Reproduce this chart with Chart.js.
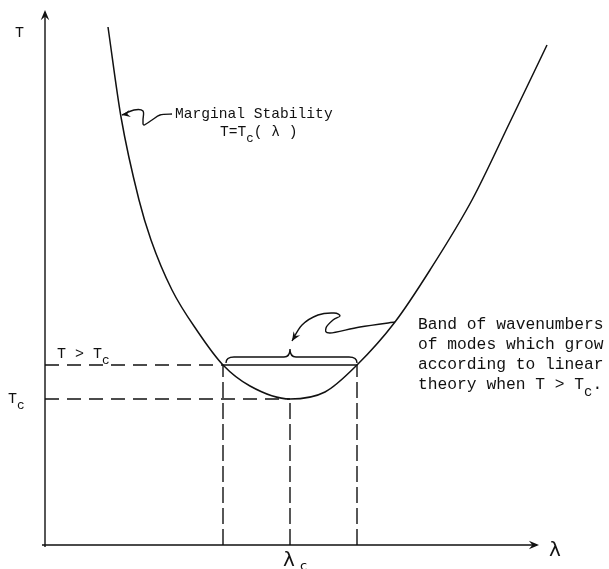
<!DOCTYPE html>
<html>
<head>
<meta charset="utf-8">
<script src="https://cdn.jsdelivr.net/npm/chart.js@4/dist/chart.umd.min.js"></script>
<style>
  html, body { margin: 0; background: #fff; }
  canvas { display: block; }
</style>
</head>
<body>
<canvas id="chart" width="609" height="569"></canvas>
<script>
// marginal stability curve T = Tc(lambda)
const curveLambda = [1.26, 1.52, 1.88, 2.12, 2.54, 3.06, 3.56, 4.10, 4.90, 5.60, 6.24, 7.00, 7.70, 8.54, 9.30, 10.04];
const curveT      = [10.36, 8.56, 6.90, 6.10, 5.10, 4.26, 3.60, 3.18, 2.92, 3.06, 3.60, 4.46, 5.50, 6.90, 8.46, 10.00];

// critical point and the T > Tc level
const lambdaC = 4.9;
const tC = 2.92;
const tAbove = 3.6;
const bandLeft = 3.56;
const bandRight = 6.24;

// axis ends (arrow tips)
const axisLambdaEnd = 9.84;
const axisTEnd = 10.66;

// pointer squiggles (data units)
const margPointer = [[1.54, 8.60], [1.78, 8.70], [1.96, 8.68], [1.96, 8.50], [1.98, 8.40], [2.14, 8.50], [2.30, 8.60], [2.54, 8.62]];
const bandPointer = [[7.00, 4.46], [6.30, 4.36], [5.70, 4.24], [5.62, 4.34], [5.76, 4.50], [5.90, 4.58], [5.78, 4.64], [5.46, 4.60], [5.14, 4.40], [4.94, 4.08]];

const ink = '#111';
const dashH = [14, 8];
const dashV = [16, 5];

function seg(x1, y1, x2, y2) {
    return [{ x: x1, y: y1 }, { x: x2, y: y2 }];
}

function lineSet(data, dash, width) {
    return {
        data: data,
        showLine: true,
        borderColor: ink,
        borderWidth: width || 1.4,
        borderDash: dash || [],
        pointRadius: 0,
        clip: false
    };
}

const curve = curveLambda.map((l, i) => ({ x: l, y: curveT[i] }));

// smooth path through points (catmull-rom)
function smoothPath(ctx, pts) {
    ctx.beginPath();
    ctx.moveTo(pts[0][0], pts[0][1]);
    for (let i = 0; i < pts.length - 1; i++) {
        const p0 = pts[i - 1] || pts[i];
        const p1 = pts[i];
        const p2 = pts[i + 1];
        const p3 = pts[i + 2] || p2;
        ctx.bezierCurveTo(
            p1[0] + (p2[0] - p0[0]) / 6, p1[1] + (p2[1] - p0[1]) / 6,
            p2[0] - (p3[0] - p1[0]) / 6, p2[1] - (p3[1] - p1[1]) / 6,
            p2[0], p2[1]);
    }
    ctx.stroke();
}

function arrowHead(ctx, from, tip, size) {
    const a = Math.atan2(tip[1] - from[1], tip[0] - from[0]);
    ctx.beginPath();
    ctx.moveTo(tip[0], tip[1]);
    ctx.lineTo(tip[0] - size * Math.cos(a - 0.4), tip[1] - size * Math.sin(a - 0.4));
    ctx.lineTo(tip[0] - size * 0.6 * Math.cos(a), tip[1] - size * 0.6 * Math.sin(a));
    ctx.lineTo(tip[0] - size * Math.cos(a + 0.4), tip[1] - size * Math.sin(a + 0.4));
    ctx.closePath();
    ctx.fill();
}

// text with subscript pieces: parts = [[text, isSub], ...]
function richText(ctx, parts, x, y, size) {
    let cx = x;
    parts.forEach(([t, sub]) => {
        ctx.font = (sub ? size * 0.85 : size) + 'px "Liberation Mono", monospace';
        ctx.fillText(t, cx, sub ? y + size * 0.4 : y);
        cx += ctx.measureText(t).width;
    });
}

const sketchPlugin = {
    id: 'sketch',
    afterDatasetsDraw(chart) {
        const ctx = chart.ctx;
        const xs = chart.scales.x, ys = chart.scales.y;
        const px = v => xs.getPixelForValue(v);
        const py = v => ys.getPixelForValue(v);
        ctx.save();
        ctx.strokeStyle = ink;
        ctx.fillStyle = ink;
        ctx.lineWidth = 1.4;
        ctx.setLineDash([]);

        // axes with arrows
        const x0 = px(0), y0 = py(0);
        ctx.beginPath();
        ctx.moveTo(x0, y0 + 2);
        ctx.lineTo(x0, py(axisTEnd));
        ctx.moveTo(x0 - 3, y0);
        ctx.lineTo(px(axisLambdaEnd), y0);
        ctx.stroke();
        arrowHead(ctx, [x0, y0], [x0, py(axisTEnd) - 2], 11);
        arrowHead(ctx, [x0, y0], [px(axisLambdaEnd) + 2, y0], 11);

        // brace over the unstable band
        const bl = px(bandLeft) + 3, br = px(bandRight), bm = px(lambdaC);
        const bb = py(tAbove) - 2, bt = bb - 6;
        ctx.beginPath();
        ctx.moveTo(bl, bb);
        ctx.quadraticCurveTo(bl, bt, bl + 8, bt);
        ctx.lineTo(bm - 6, bt);
        ctx.quadraticCurveTo(bm, bt, bm, bt - 8);
        ctx.quadraticCurveTo(bm, bt, bm + 6, bt);
        ctx.lineTo(br - 8, bt);
        ctx.quadraticCurveTo(br, bt, br, bb);
        ctx.stroke();

        // pointers
        const mp = margPointer.map(p => [px(p[0]), py(p[1])]);
        smoothPath(ctx, mp.slice().reverse());
        arrowHead(ctx, mp[2], mp[0], 9);
        const bp = bandPointer.map(p => [px(p[0]), py(p[1])]);
        smoothPath(ctx, bp);
        arrowHead(ctx, bp[bp.length - 2], bp[bp.length - 1], 10);

        // labels
        ctx.textBaseline = 'alphabetic';
        ctx.textAlign = 'left';
        richText(ctx, [['T', false]], px(-0.6), py(10.16), 15);
        richText(ctx, [['T', false], ['c', true]], px(-0.74), py(2.84), 15);
        richText(ctx, [['T > T', false], ['c', true]], px(0.24), py(3.74), 15);
        richText(ctx, [['Marginal Stability', false]], px(2.6), py(8.54), 14.6);
        richText(ctx, [['T=T', false], ['c', true], ['( λ )', false]], px(3.5), py(8.18), 14.6);
        const bandX = px(7.46);
        richText(ctx, [['Band of wavenumbers', false]], bandX, py(4.32), 16.3);
        richText(ctx, [['of modes which grow', false]], bandX, py(3.92), 16.3);
        richText(ctx, [['according to linear', false]], bandX, py(3.52), 16.3);
        richText(ctx, [['theory when T > T', false], ['c', true], ['.', false]], bandX, py(3.12), 16.3);

        ctx.font = '20px "DejaVu Sans", sans-serif';
        ctx.fillText('λ', px(10.08), py(-0.22));
        ctx.fillText('λ', px(4.76), py(-0.42));
        ctx.font = '13px "DejaVu Sans", sans-serif';
        ctx.fillText('c', px(5.1), py(-0.5));
        ctx.restore();
    }
};

new Chart(document.getElementById('chart'), {
    type: 'scatter',
    data: {
        datasets: [
            Object.assign(lineSet(curve, [], 1.5), { tension: 0.4, cubicInterpolationMode: 'monotone' }),
            lineSet(seg(0, tAbove, bandLeft, tAbove), dashH),
            lineSet(seg(bandLeft, tAbove, bandRight, tAbove), []),
            lineSet(seg(0, tC, lambdaC, tC), dashH),
            lineSet(seg(bandLeft, 0, bandLeft, tAbove), dashV),
            lineSet(seg(lambdaC, 0, lambdaC, tC), dashV),
            lineSet(seg(bandRight, 0, bandRight, tAbove), dashV)
        ]
    },
    options: {
        responsive: false,
        animation: false,
        layout: { padding: { left: 45, right: 14, top: 15, bottom: 24 } },
        plugins: { legend: { display: false }, tooltip: { enabled: false } },
        scales: {
            x: { type: 'linear', min: 0, max: 11, display: false },
            y: { type: 'linear', min: 0, max: 10.6, display: false }
        }
    },
    plugins: [sketchPlugin]
});
</script>
</body>
</html>
